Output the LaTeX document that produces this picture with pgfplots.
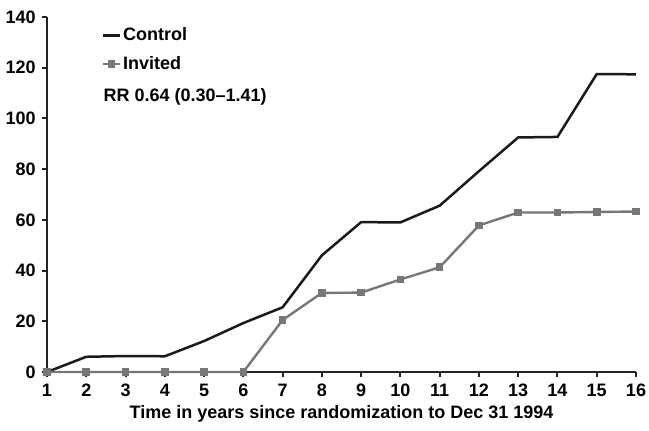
\documentclass[border=0pt]{standalone}
\usepackage{pgfplots}
\pgfplotsset{compat=1.18}
\usepackage{fontspec}
\setmainfont{Liberation Sans}
\definecolor{ctrl}{HTML}{1A1A1A}
\definecolor{inv}{HTML}{777777}
\definecolor{axc}{HTML}{222222}
\newcommand{\lf}{\fontsize{9}{10.5}\selectfont\bfseries}

\begin{document}
\begin{tikzpicture}
\begin{axis}[
  scale only axis,
  width=294.5pt, height=177.5pt,
  xmin=1, xmax=16, ymin=0, ymax=140,
  xtick={1,...,16}, ytick={0,20,...,140},
  axis x line*=bottom, axis y line*=left,
  axis line style={axc, line width=1pt},
  tick style={axc, line width=1pt},
  tick align=outside, major tick length=2.6pt,
  clip=false,
  font=\lf,
  /pgf/number format/assume math mode=true,
  ticklabel style={font=\lf},
  yticklabel style={xshift=0.5pt},
  xlabel={Time in years since randomization to Dec 31 1994},
  xlabel style={at={(axis description cs:0.5,0)}, anchor=center, yshift=-21pt},
  legend style={at={(axis cs:2.38,137.6)}, anchor=north west, draw=none, fill=none,
    font=\lf, row sep=2.3pt, inner xsep=0pt, inner ysep=0pt,
    nodes={inner xsep=1pt}},
  legend cell align=left,
  legend image code/.code={\draw[mark repeat=2, mark phase=2, #1]
    plot coordinates {(0cm,0cm) (0.15cm,0cm) (0.3cm,0cm)};},
]
\addplot[ctrl, line width=1.25pt, mark=none] coordinates {
  (1,0) (2,6) (3,6.3) (4,6.2) (5,12.2) (6,19.3) (7,25.5) (8,46) (9,59.1)
  (10,59) (11,65.6) (12,79.2) (13,92.5) (14,92.7) (15,117.5) (16,117.4)};
\addlegendentry{Control}
\addplot[inv, line width=1.2pt, mark=square*, mark size=1.3pt, mark options={solid, fill=inv}] coordinates {
  (1,0) (2,0) (3,0) (4,0) (5,0) (6,0) (7,20.5) (8,31.2) (9,31.3) (10,36.5)
  (11,41.3) (12,57.8) (13,62.9) (14,62.9) (15,63.1) (16,63.3)};
\addlegendentry{Invited}
\node[anchor=west, inner sep=0pt, font=\lf]
  at (axis cs:2.43,108.6) {RR 0.64 (0.30--1.41)};
\end{axis}
\pgfresetboundingbox
\path ([shift={(-23.5pt,-29pt)}]current axis.south west)
  rectangle ([shift={(6.5pt,8.5pt)}]current axis.north east);
\end{tikzpicture}
\end{document}
